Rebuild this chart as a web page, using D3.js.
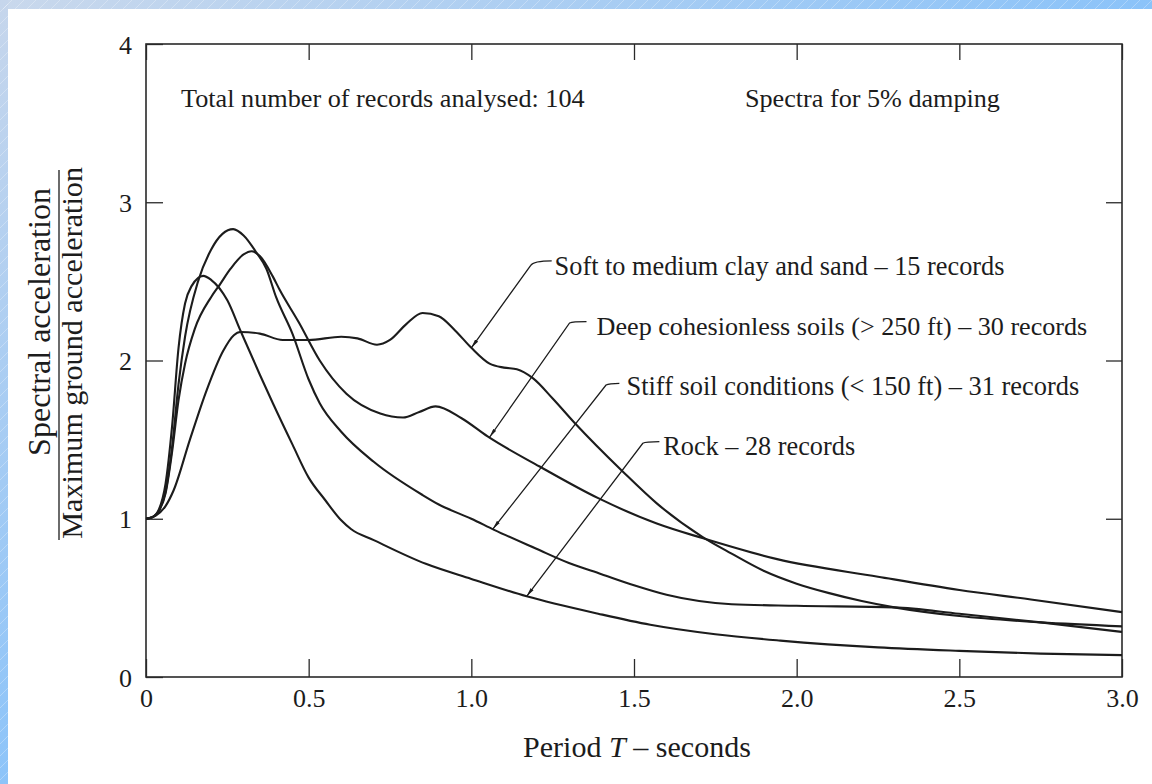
<!DOCTYPE html>
<html><head><meta charset="utf-8">
<script src="https://cdn.jsdelivr.net/npm/d3@7"></script>
<style>
html,body{margin:0;padding:0;background:#fff;}
svg{display:block;}
text{font-family:"Liberation Serif","Times New Roman",serif;fill:#1c1c1c;}
</style></head><body>
<svg id="chart" width="1152" height="784"></svg>
<script>
// ---- data ----
const xTickValues = [0, 0.5, 1, 1.5, 2, 2.5, 3];
const xTickLabels = ["0", "0.5", "1.0", "1.5", "2.0", "2.5", "3.0"];
const yTickValues = [0, 1, 2, 3, 4];
const yTickLabels = ["0", "1", "2", "3", "4"];

const seriesNames = [
  "Soft to medium clay and sand \u2013 15 records",
  "Deep cohesionless soils (> 250 ft) \u2013 30 records",
  "Stiff soil conditions (< 150 ft) \u2013 31 records",
  "Rock \u2013 28 records"
];

// [period T (s), spectral acc. / max ground acc.]
const softClay = [[0,1.0],[0.03,1.02],[0.06,1.08],[0.085,1.18],[0.135,1.5],[0.186,1.81],[0.237,2.06],[0.27,2.16],[0.29,2.18],[0.35,2.17],[0.42,2.13],[0.5,2.13],[0.6,2.15],[0.65,2.14],[0.71,2.1],[0.75,2.13],[0.8,2.23],[0.85,2.3],[0.9,2.28],[0.95,2.19],[1.0,2.08],[1.056,1.98],[1.1,1.955],[1.14,1.945],[1.19,1.887],[1.25,1.76],[1.32,1.6],[1.466,1.297],[1.57,1.097],[1.71,0.886],[1.8,0.78],[1.9,0.67],[2.0,0.59],[2.1,0.53],[2.2,0.48],[2.3,0.44],[2.5,0.385],[2.75,0.345],[3.0,0.32]];
const deepCohesionless = [[0,1.0],[0.02,1.01],[0.04,1.05],[0.06,1.16],[0.08,1.42],[0.1,1.75],[0.12,1.98],[0.15,2.2],[0.2,2.4],[0.227,2.48],[0.26,2.58],[0.3,2.67],[0.325,2.69],[0.35,2.66],[0.39,2.53],[0.41,2.45],[0.47,2.24],[0.534,2.0],[0.616,1.79],[0.72,1.665],[0.79,1.64],[0.84,1.675],[0.89,1.71],[0.97,1.635],[1.05,1.52],[1.21,1.33],[1.39,1.13],[1.57,0.97],[1.71,0.878],[1.94,0.745],[2.25,0.634],[2.5,0.55],[2.72,0.49],[3.0,0.41]];
const stiffSoil = [[0,1.0],[0.02,1.01],[0.04,1.05],[0.06,1.17],[0.08,1.45],[0.1,1.85],[0.12,2.15],[0.16,2.5],[0.2,2.7],[0.235,2.8],[0.268,2.83],[0.3,2.79],[0.34,2.68],[0.37,2.58],[0.4,2.4],[0.45,2.17],[0.5,1.88],[0.534,1.73],[0.6,1.55],[0.7,1.36],[0.85,1.15],[0.9,1.09],[1.0,1.0],[1.07,0.93],[1.2,0.81],[1.3,0.72],[1.4,0.65],[1.5,0.58],[1.6,0.52],[1.7,0.48],[1.8,0.46],[2.0,0.45],[2.3,0.44],[2.5,0.4],[2.75,0.345],[3.0,0.285]];
const rock = [[0,1.0],[0.02,1.01],[0.04,1.06],[0.06,1.22],[0.08,1.58],[0.1,2.08],[0.12,2.36],[0.14,2.47],[0.176,2.535],[0.2,2.51],[0.25,2.38],[0.29,2.19],[0.35,1.91],[0.39,1.73],[0.45,1.47],[0.5,1.26],[0.55,1.12],[0.6,0.99],[0.63,0.935],[0.7,0.865],[0.86,0.715],[1.0,0.62],[1.17,0.51],[1.39,0.4],[1.55,0.33],[1.75,0.27],[1.95,0.23],[2.25,0.187],[2.5,0.165],[2.75,0.148],[3.0,0.138]];

// ---- layout ----
const svg = d3.select("#chart");
const x = d3.scaleLinear().domain([0, 3]).range([146, 1122]);
const y = d3.scaleLinear().domain([0, 4]).range([677, 44]);

// background frame (blue slide border)
const defs = svg.append("defs");
const gTop = defs.append("linearGradient").attr("id","gTop").attr("x1",0).attr("x2",1).attr("y1",0).attr("y2",0);
gTop.append("stop").attr("offset",0).attr("stop-color","#c9d8ec");
gTop.append("stop").attr("offset",1).attr("stop-color","#8bc3f9");
const gLeft = defs.append("linearGradient").attr("id","gLeft").attr("x1",0).attr("x2",0).attr("y1",0).attr("y2",1);
gLeft.append("stop").attr("offset",0).attr("stop-color","#c6d6ec");
gLeft.append("stop").attr("offset",1).attr("stop-color","#8dc4f9");
const pat = defs.append("pattern").attr("id","stripes").attr("patternUnits","userSpaceOnUse").attr("width",12).attr("height",12);
pat.append("path").attr("d","M-3,15 L15,-3 M-3,3 L3,-3 M9,15 L15,9").attr("stroke","#ffffff").attr("stroke-opacity",0.35).attr("stroke-width",0.8);

svg.append("rect").attr("width",1152).attr("height",784).attr("fill","#ffffff");
svg.append("rect").attr("x",0).attr("y",0).attr("width",1152).attr("height",9).attr("fill","url(#gTop)");
svg.append("rect").attr("x",0).attr("y",0).attr("width",8).attr("height",784).attr("fill","url(#gLeft)");
svg.append("rect").attr("x",0).attr("y",0).attr("width",1152).attr("height",9).attr("fill","url(#stripes)");
svg.append("rect").attr("x",0).attr("y",0).attr("width",8).attr("height",784).attr("fill","url(#stripes)");

// markers
defs.append("marker").attr("id","arr").attr("viewBox","0 0 10 4")
  .attr("refX",10).attr("refY",2).attr("markerWidth",9).attr("markerHeight",4)
  .attr("markerUnits","userSpaceOnUse").attr("orient","auto-start-reverse")
  .append("path").attr("d","M0,0 L10,2 L0,4 Z").attr("fill","#1c1c1c");

const axisColor = "#2a2a2a";
function styleAxis(g){
  g.attr("font-size", null).attr("font-family", null);
  g.select(".domain").remove();
  g.selectAll(".tick line").attr("stroke",axisColor).attr("stroke-width",1.3);
  g.selectAll("text").attr("fill","#1c1c1c").style("font-size","26px");
}

// bottom axis
const gx = svg.append("g").attr("transform",`translate(0,${y(0)})`)
  .call(d3.axisBottom(x).tickValues(xTickValues).tickFormat((d,i)=>xTickLabels[i]).tickSize(-18).tickSizeOuter(0));
styleAxis(gx);
gx.selectAll("text").attr("y",30).attr("dy",null);

// top axis
const gxt = svg.append("g").attr("transform",`translate(0,${y(4)})`)
  .call(d3.axisTop(x).tickValues(xTickValues).tickFormat("").tickSize(-16).tickSizeOuter(0));
styleAxis(gxt);

// left axis
const gy = svg.append("g").attr("transform",`translate(${x(0)},0)`)
  .call(d3.axisLeft(y).tickValues(yTickValues).tickFormat((d,i)=>yTickLabels[i]).tickSize(-17).tickSizeOuter(0).tickPadding(14));
styleAxis(gy);
gy.selectAll("text").attr("dy","0.35em");

// right axis
const gyr = svg.append("g").attr("transform",`translate(${x(3)},0)`)
  .call(d3.axisRight(y).tickValues(yTickValues.slice(1,4)).tickFormat("").tickSize(-16).tickSizeOuter(0));
styleAxis(gyr);

// frame
svg.append("rect").attr("x",x(0)).attr("y",y(4)).attr("width",x(3)-x(0)).attr("height",y(0)-y(4))
  .attr("fill","none").attr("stroke",axisColor).attr("stroke-width",1.6);

// curves
const line = d3.line().x(d=>x(d[0])).y(d=>y(d[1])).curve(d3.curveMonotoneX);
const allSeries = [softClay, deepCohesionless, stiffSoil, rock];
svg.append("g").selectAll("path").data(allSeries).join("path")
  .attr("d", line).attr("fill","none").attr("stroke","#1c1c1c").attr("stroke-width",2.1)
  .attr("stroke-linejoin","round");

// helper to fit text width
function fitText(sel, target){
  const w = sel.node().getComputedTextLength();
  const fs = parseFloat(sel.attr("font-size"));
  sel.attr("font-size", fs*target/w);
}

// annotations with leader lines (in data units)
const annotations = [
  {tip:[1.0,2.08],  elbow:[1.182,2.60], hook:[1.247,2.63], label:[1.256,2.54], width:450},
  {tip:[1.056,1.515],elbow:[1.302,2.237],hook:[1.354,2.246],label:[1.385,2.161],width:491},
  {tip:[1.066,0.935],elbow:[1.414,1.845],hook:[1.455,1.856],label:[1.477,1.782],width:453},
  {tip:[1.17,0.51], elbow:[1.527,1.477],hook:[1.578,1.487],label:[1.59,1.403], width:192}
];
const ag = svg.append("g");
annotations.forEach((a,i)=>{
  const tx=x(a.tip[0]), ty=y(a.tip[1]), ex=x(a.elbow[0]), ey=y(a.elbow[1]), hx=x(a.hook[0]), hy=y(a.hook[1]);
  ag.append("path").attr("d",`M${tx},${ty} L${ex},${ey} Q${ex+3},${hy} ${hx},${hy}`)
    .attr("fill","none").attr("stroke","#1c1c1c").attr("stroke-width",1.3)
    .attr("marker-start","url(#arr)");
  const t = ag.append("text").attr("x",x(a.label[0])).attr("y",y(a.label[1]))
    .attr("font-size",22).text(seriesNames[i]);
  fitText(t, a.width);
});

// header notes
const n1 = svg.append("text").attr("x",181).attr("y",107).attr("font-size",22).text("Total number of records analysed: 104");
fitText(n1, 404);
const n2 = svg.append("text").attr("x",745).attr("y",107).attr("font-size",22).text("Spectra for 5% damping");
fitText(n2, 255);

// x axis title
const xt = svg.append("text").attr("x",(x(0)+x(3))/2+3).attr("y",757).attr("text-anchor","middle").attr("font-size",22);
xt.append("tspan").text("Period ");
xt.append("tspan").attr("font-style","italic").text("T");
xt.append("tspan").text(" \u2013 seconds");
fitText(xt, 228);

// y axis title as a fraction
const yTop = 185;
const s1 = svg.append("text").attr("transform",`translate(50,${yTop+3}) rotate(-90)`).attr("text-anchor","end")
  .attr("font-size",22).text("Spectral acceleration");
fitText(s1, 268);
svg.append("line").attr("x1",59).attr("x2",59).attr("y1",yTop-15).attr("y2",540).attr("stroke","#1c1c1c").attr("stroke-width",1.3);
const s2 = svg.append("text").attr("transform",`translate(82,${yTop-18}) rotate(-90)`).attr("text-anchor","end")
  .attr("font-size",22).text("Maximum ground acceleration");
fitText(s2, 372);
</script>
</body></html>
